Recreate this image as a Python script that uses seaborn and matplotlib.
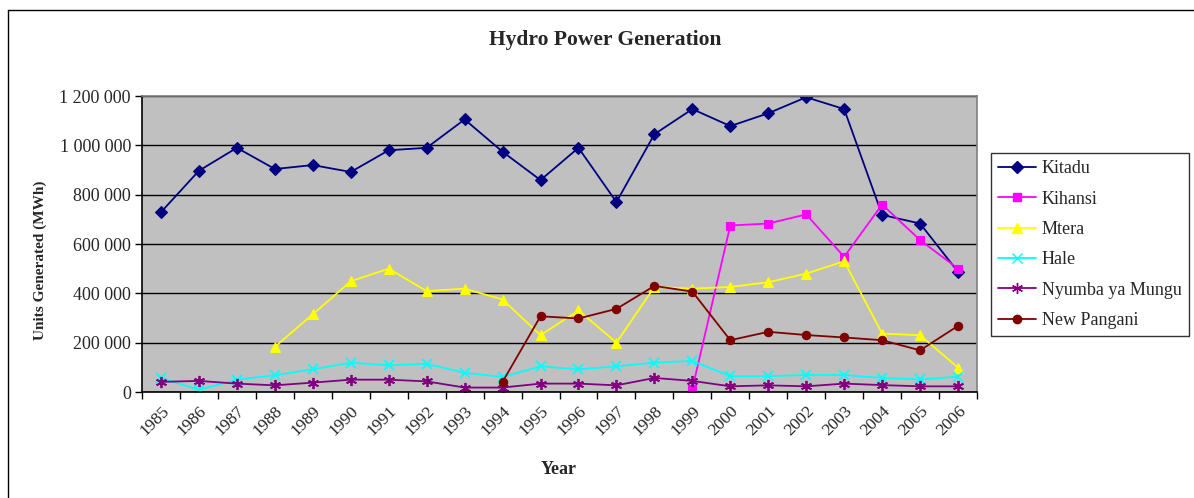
import numpy as np
import pandas as pd
import seaborn as sns
import matplotlib.pyplot as plt
from matplotlib.lines import Line2D
from matplotlib.ticker import FuncFormatter
from matplotlib.transforms import ScaledTranslation

years = list(range(1985, 2007))
nan = np.nan

kitadu = [729000, 897000, 990000, 904000, 920000, 892000, 980000, 990000, 1105000, 974000, 859000,
          990000, 770000, 1045000, 1147000, 1078000, 1130000, 1195000, 1147000, 718000, 683000, 487000]
kihansi = [nan] * 14 + [13000, 675000, 683000, 720000, 548000, 760000, 616000, 500000]
mtera = [nan, nan, nan, 183000, 315000, 449000, 500000, 409000, 419000, 375000, 230000,
         331000, 200000, 426000, 419000, 426000, 445000, 480000, 530000, 237000, 230000, 99000]
hale = [57000, 9000, 50000, 68000, 92000, 119000, 108000, 114000, 78000, 61000, 104000,
        92000, 104000, 119000, 126000, 64000, 64000, 69000, 69000, 57000, 51000, 62000]
nyumba = [41000, 45000, 34000, 27000, 38000, 50000, 50000, 43000, 18000, 18000, 34000,
          34000, 27000, 57000, 45000, 23000, 27000, 23000, 34000, 28000, 23000, 23000]
new_pangani = [nan] * 9 + [41000, 307000, 298000, 337000, 430000, 407000, 210000, 244000,
                           231000, 221000, 210000, 169000, 268000]

series = ['Kitadu', 'Kihansi', 'Mtera', 'Hale', 'Nyumba ya Mungu', 'New Pangani']
values = [kitadu, kihansi, mtera, hale, nyumba, new_pangani]
colors = ['#000080', '#FF00FF', '#FFFF00', '#00FFFF', '#800080', '#800000']
markers = ['D', 's', '^', 'x', (6, 2, 0), 'o']
msizes = [6, 6, 7, 7, 8, 6]

sns.set_style('white')
plt.rcParams['font.family'] = ['Liberation Serif', 'DejaVu Serif']

fig = plt.figure(figsize=(11.94, 4.98), dpi=100)
ax = fig.add_axes([142 / 1194, 1 - 392 / 498, (977 - 142) / 1194, (392 - 96) / 498])
ax.set_facecolor('#C0C0C0')

xpos = np.arange(len(years))
handles = []
for name, vals, col, mk, ms in zip(series, values, colors, markers, msizes):
    df = pd.DataFrame({'x': xpos, 'y': vals}).dropna()
    sns.lineplot(x='x', y='y', data=df, ax=ax, color=col, marker=mk, markersize=ms,
                 markeredgecolor=col, markerfacecolor=col, linewidth=1.3,
                 markeredgewidth=1.3 if mk in ('x', (6, 2, 0)) else 0.8)
    handles.append(Line2D([], [], color=col, marker=mk, markersize=ms, linewidth=1.3,
                          markeredgecolor=col, markerfacecolor=col, label=name))

ax.set_xlim(-0.5, len(years) - 0.5)
ax.set_ylim(0, 1200000)
ax.set_yticks(np.arange(0, 1200001, 200000))
ax.yaxis.set_major_formatter(FuncFormatter(lambda v, p: f'{int(v):,}'.replace(',', ' ')))
ax.yaxis.grid(True, color='black', linewidth=1)
ax.set_axisbelow(True)

ax.set_xticks(np.arange(-0.5, len(years), 1))
ax.set_xticklabels([])
ax.set_xticks(xpos, minor=True)
ax.set_xticklabels([str(y) for y in years], minor=True, rotation=45, ha='right',
                   va='top', rotation_mode='anchor', fontsize=12.5)
shift = ScaledTranslation(-8 / 100, 0, fig.dpi_scale_trans)
for lbl in ax.get_xticklabels(minor=True):
    lbl.set_transform(lbl.get_transform() + shift)
ax.tick_params(axis='x', which='major', direction='out', length=5, width=1, color='black', bottom=True)
ax.tick_params(axis='x', which='minor', length=0, pad=8)
ax.tick_params(axis='y', direction='out', length=5, width=1, color='black', left=True, labelsize=13, pad=3)

for s in ['left', 'bottom']:
    ax.spines[s].set_color('black')
    ax.spines[s].set_linewidth(1.2)
for s in ['top', 'right']:
    ax.spines[s].set_color('#808080')
    ax.spines[s].set_linewidth(1.2)

ax.set_xlabel('')
ax.set_ylabel('')
fig.text(559 / 1194, 1 - 469 / 498, 'Year', fontsize=13, fontweight='bold',
         ha='center', va='center')
fig.text(40 / 1194, 1 - 260 / 498, 'Units Generated (MWh)', rotation=90, fontsize=11,
         fontweight='bold', ha='center', va='center')
fig.text(605 / 1194, 1 - 40 / 498, 'Hydro Power Generation', fontsize=15.5,
         fontweight='bold', ha='center', va='center')

leg = fig.legend(handles=handles, loc='upper left', bbox_to_anchor=(991 / 1194, 1 - 153 / 498),
                 fontsize=13, frameon=True, fancybox=False, edgecolor='black',
                 handlelength=2.1, labelspacing=0.74, borderpad=0.4, handletextpad=0.3,
                 borderaxespad=0)
leg.get_frame().set_linewidth(1)

# outer chart border
fig.add_artist(Line2D([8 / 1194, 8 / 1194], [0, 1 - 10 / 498], color='black', linewidth=1,
                      transform=fig.transFigure))
fig.add_artist(Line2D([8 / 1194, 1], [1 - 10 / 498, 1 - 10 / 498], color='black', linewidth=1,
                      transform=fig.transFigure))

fig.savefig('out.png', dpi=100)
